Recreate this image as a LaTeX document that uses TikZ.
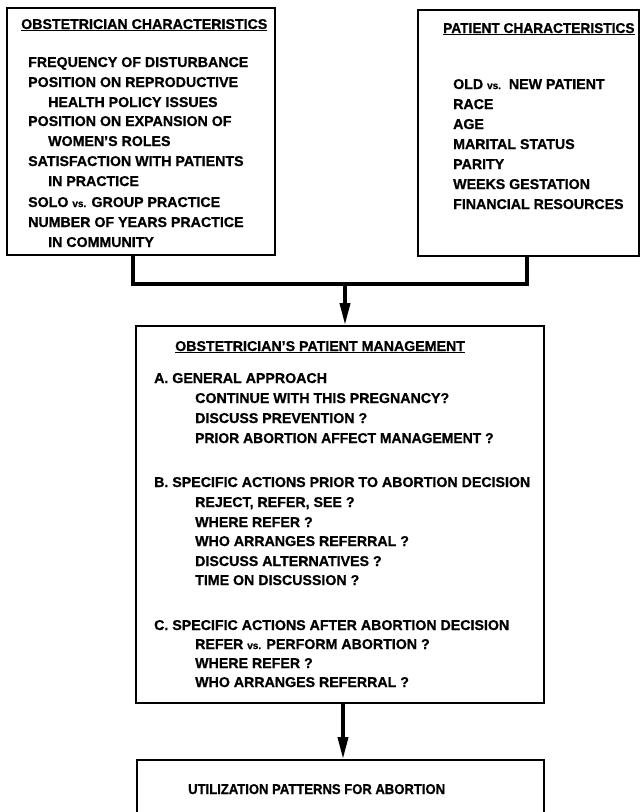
\documentclass[tikz,border=0pt]{standalone}
\usepackage{graphicx}
\usepackage{fontspec}
\setmainfont{Liberation Sans}[BoldFeatures={FakeBold=0.8}]
\usetikzlibrary{arrows.meta}
\newcommand{\vsm}{{\fontsize{10}{12}\selectfont vs.}}
\begin{document}
\begin{tikzpicture}[x=1pt,y=-1pt,
  box/.style={draw,line width=1.7pt,inner sep=0pt,rectangle},
  conn/.style={line width=3.6pt},
  arr/.style={line width=3.6pt,-{Triangle[width=10pt,length=22pt]}},
  txt/.style={anchor=base west,inner sep=0pt,font=\fontsize{14.2}{16}\selectfont\bfseries}]
\useasboundingbox (0,0) rectangle (640,812);
% boxes
\node[box,minimum width=268pt,minimum height=247pt] (lbox) at (141,131.5) {};
\node[box,minimum width=221pt,minimum height=246pt] (rbox) at (528.5,133) {};
\node[box,minimum width=408pt,minimum height=377pt] (mbox) at (340,514.5) {};
\node[box,minimum width=407pt,minimum height=80pt] (bbox) at (340.5,800) {};
% connectors
\coordinate (j1) at (133,284);
\coordinate (j2) at (527,284);
\coordinate (jm) at (345,284);
\coordinate (jb) at (343,703);
\draw[conn,line join=miter] (lbox.south -| j1) -- (j1) -- (j2) -- (rbox.south -| j2);
\draw[arr] (jm) -- (mbox.north -| jm);
\draw[arr] (mbox.south -| jb) -- (bbox.north -| jb);
% left box text
\node[txt] (l0) at (21,29) {\underline{OBSTETRICIAN CHARACTERISTICS}};
\node[txt] (l1) at (28,67) {FREQUENCY OF DISTURBANCE};
\node[txt] (l2) at (28,87) {POSITION ON REPRODUCTIVE};
\node[txt] (l3) at (48,107) {HEALTH POLICY ISSUES};
\node[txt] (l4) at (28,126) {POSITION ON EXPANSION OF};
\node[txt] (l5) at (48,146) {WOMEN'S ROLES};
\node[txt] (l6) at (28,166) {SATISFACTION WITH PATIENTS};
\node[txt] (l7) at (48,186) {IN PRACTICE};
\node[txt] (l8) at (28,207) {SOLO \vsm{} GROUP PRACTICE};
\node[txt] (l9) at (28,227) {NUMBER OF YEARS PRACTICE};
\node[txt] (l10) at (48,247) {IN COMMUNITY};
% right box text
\node[txt] (r0) at (443,33) {\scalebox{0.965}[1]{\underline{PATIENT CHARACTERISTICS}}};
\node[txt] (r1) at (453,89) {OLD \vsm\ \ NEW PATIENT};
\node[txt] (r2) at (453,109) {RACE};
\node[txt] (r3) at (453,129) {AGE};
\node[txt] (r4) at (453,149) {MARITAL STATUS};
\node[txt] (r5) at (453,169) {PARITY};
\node[txt] (r6) at (453,189) {WEEKS GESTATION};
\node[txt] (r7) at (453,209) {FINANCIAL RESOURCES};
% middle box text
\node[txt] (m0) at (175,351) {\underline{OBSTETRICIAN'S PATIENT MANAGEMENT}};
\node[txt] (ma) at (154,383) {A. GENERAL APPROACH};
\node[txt] (ma1) at (195,403) {CONTINUE WITH THIS PREGNANCY?};
\node[txt] (ma2) at (195,423) {DISCUSS PREVENTION ?};
\node[txt] (ma3) at (195,443) {\scalebox{0.98}[1]{PRIOR ABORTION AFFECT MANAGEMENT ?}};
\node[txt] (mb) at (154,487) {B. SPECIFIC ACTIONS PRIOR TO ABORTION DECISION};
\node[txt] (mb1) at (195,507) {REJECT, REFER, SEE ?};
\node[txt] (mb2) at (195,527) {WHERE REFER ?};
\node[txt] (mb3) at (195,546) {WHO ARRANGES REFERRAL ?};
\node[txt] (mb4) at (195,566) {DISCUSS ALTERNATIVES ?};
\node[txt] (mb5) at (195,585) {TIME ON DISCUSSION ?};
\node[txt] (mc) at (154,630) {C. SPECIFIC ACTIONS AFTER ABORTION DECISION};
\node[txt] (mc1) at (195,649) {REFER \vsm{} PERFORM ABORTION ?};
\node[txt] (mc2) at (195,668) {WHERE REFER ?};
\node[txt] (mc3) at (195,687) {WHO ARRANGES REFERRAL ?};
% bottom box text
\node[txt] (b0) at (188,794) {\scalebox{0.92}[1]{UTILIZATION PATTERNS FOR ABORTION}};
\end{tikzpicture}
\end{document}
